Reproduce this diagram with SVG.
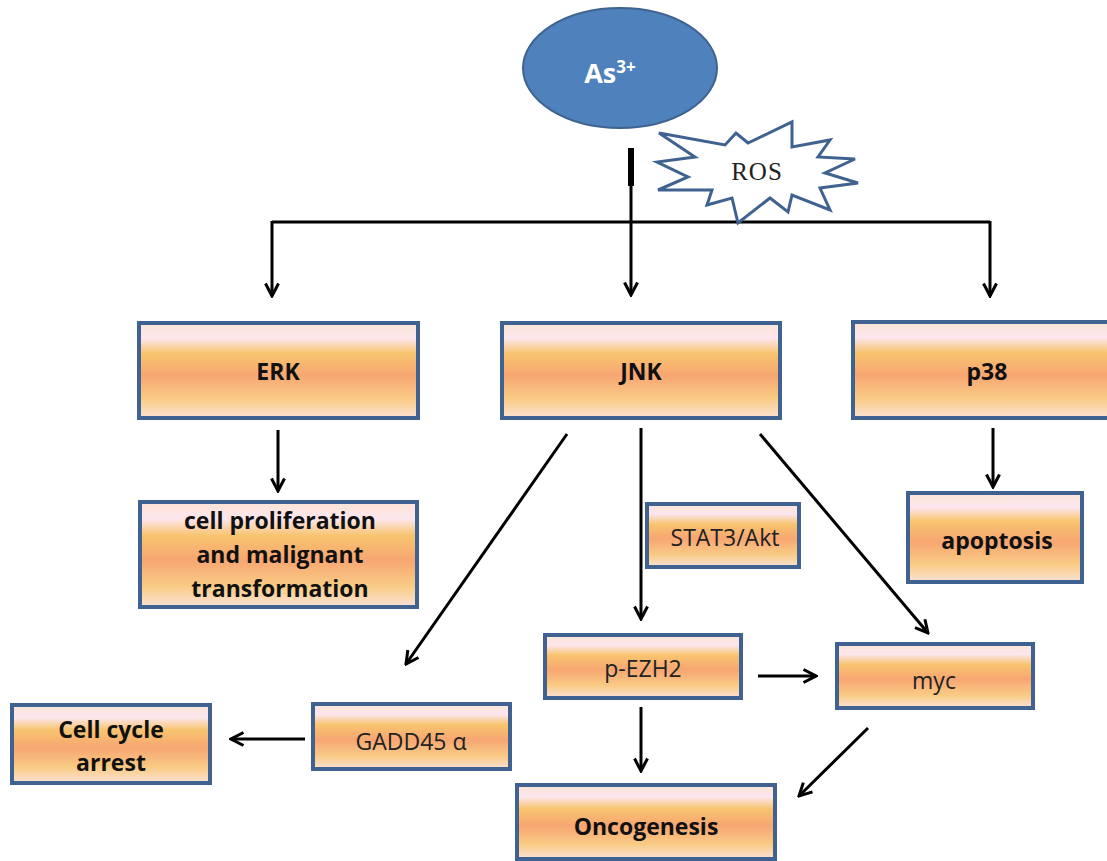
<svg xmlns="http://www.w3.org/2000/svg" width="1107" height="861" viewBox="0 0 1107 861">
<defs>
<linearGradient id="g" x1="0" y1="0" x2="0" y2="1">
<stop offset="0" stop-color="#fbe4d5"/>
<stop offset="0.16" stop-color="#fde6ee"/>
<stop offset="0.32" stop-color="#f8c46e"/>
<stop offset="0.55" stop-color="#f7a672"/>
<stop offset="0.8" stop-color="#f9cb84"/>
<stop offset="1" stop-color="#fbe2d6"/>
</linearGradient>
<marker id="a" viewBox="0 0 16 16" refX="14" refY="8" markerWidth="16" markerHeight="16" markerUnits="userSpaceOnUse" orient="auto">
<path d="M1.5,1.5 L14,8 L1.5,14.5" fill="none" stroke="#000" stroke-width="3"/>
</marker>
<style>
.box{fill:url(#g);stroke:#3f6290;stroke-width:4}
.b{font-family:"Open Sans","Liberation Sans",sans-serif;font-weight:bold;font-size:23px;fill:#111;text-anchor:middle}
.n{font-family:"Open Sans","Liberation Sans",sans-serif;font-size:23px;fill:#222;text-anchor:middle}
.c line{stroke:#000;stroke-width:3;fill:none}
.c .ar{marker-end:url(#a)}
</style>
</defs>
<rect width="1107" height="861" fill="#fff"/>
<g class="c" id="connectors">
<line x1="631" y1="148" x2="631" y2="186" style="stroke-width:6"/>
<line class="ar" x1="631" y1="184" x2="631" y2="295"/>
<line x1="272" y1="222" x2="990" y2="222"/>
<line class="ar" x1="272" y1="221" x2="272" y2="296"/>
<line class="ar" x1="990" y1="221" x2="990" y2="296"/>
<line class="ar" x1="278" y1="430" x2="278" y2="491"/>
<line class="ar" x1="993" y1="428" x2="993" y2="487"/>
<line class="ar" x1="641" y1="428" x2="641" y2="619"/>
<line class="ar" x1="567" y1="434" x2="406" y2="664"/>
<line class="ar" x1="760" y1="434" x2="928" y2="633"/>
<line class="ar" x1="758" y1="676" x2="816" y2="676"/>
<line class="ar" x1="305" y1="739" x2="231" y2="739"/>
<line class="ar" x1="641" y1="707" x2="641" y2="771"/>
<line class="ar" x1="868" y1="728" x2="799" y2="796"/>
</g>
<g id="as3">
<ellipse cx="620" cy="68" rx="97" ry="60" fill="#4f81bd" stroke="#3f6290" stroke-width="2"/>
<text x="610" y="83" font-family="'Open Sans','Liberation Sans',sans-serif" font-weight="bold" font-size="27" fill="#fff" text-anchor="middle">As<tspan font-size="17" dy="-10">3+</tspan></text>
</g>
<g id="ros">
<polygon points="659,133 725,145 736,133 748,143 792,122 792,147 830,140 818,157 855,159 825,173 858,183 820,188 830,210 792,195 788,212 770,198 738,223 732,198 707,205 712,190 658,190 688,177 657,162 695,157" fill="#fff" stroke="#3f6290" stroke-width="3" stroke-linejoin="miter"/>
<text x="757" y="180" font-family="'Liberation Serif',serif" font-size="25" letter-spacing="1" fill="#222" text-anchor="middle">ROS</text>
</g>
<g id="erk"><rect class="box" x="139" y="323" width="279" height="95"/><text class="b" x="278" y="380">ERK</text></g>
<g id="jnk"><rect class="box" x="502" y="323" width="278" height="95"/><text class="b" x="641" y="380">JNK</text></g>
<g id="p38"><rect class="box" x="853" y="322" width="280" height="96"/><text class="b" x="987" y="380">p38</text></g>
<g id="prolif"><rect class="box" x="140" y="502" width="277" height="105"/>
<text class="b" x="280" y="529">cell proliferation</text>
<text class="b" x="280" y="563">and malignant</text>
<text class="b" x="280" y="597">transformation</text></g>
<g id="apoptosis"><rect class="box" x="908" y="493" width="174" height="89"/><text class="b" x="997" y="549">apoptosis</text></g>
<g id="stat3"><rect class="box" x="647" y="504" width="152" height="63"/><text class="n" x="725" y="546">STAT3/Akt</text></g>
<g id="pezh2"><rect class="box" x="545" y="635" width="196" height="63"/><text class="n" x="643" y="677">p-EZH2</text></g>
<g id="myc"><rect class="box" x="837" y="644" width="196" height="64"/><text class="n" x="934" y="689">myc</text></g>
<g id="gadd45"><rect class="box" x="313" y="704" width="197" height="65"/><text class="n" x="411" y="750">GADD45 α</text></g>
<g id="cellcycle"><rect class="box" x="12" y="705" width="198" height="78"/>
<text class="b" x="111" y="738">Cell cycle</text>
<text class="b" x="111" y="771">arrest</text></g>
<g id="oncogenesis"><rect class="box" x="517" y="785" width="258" height="74"/><text class="b" x="646" y="835">Oncogenesis</text></g>
</svg>
